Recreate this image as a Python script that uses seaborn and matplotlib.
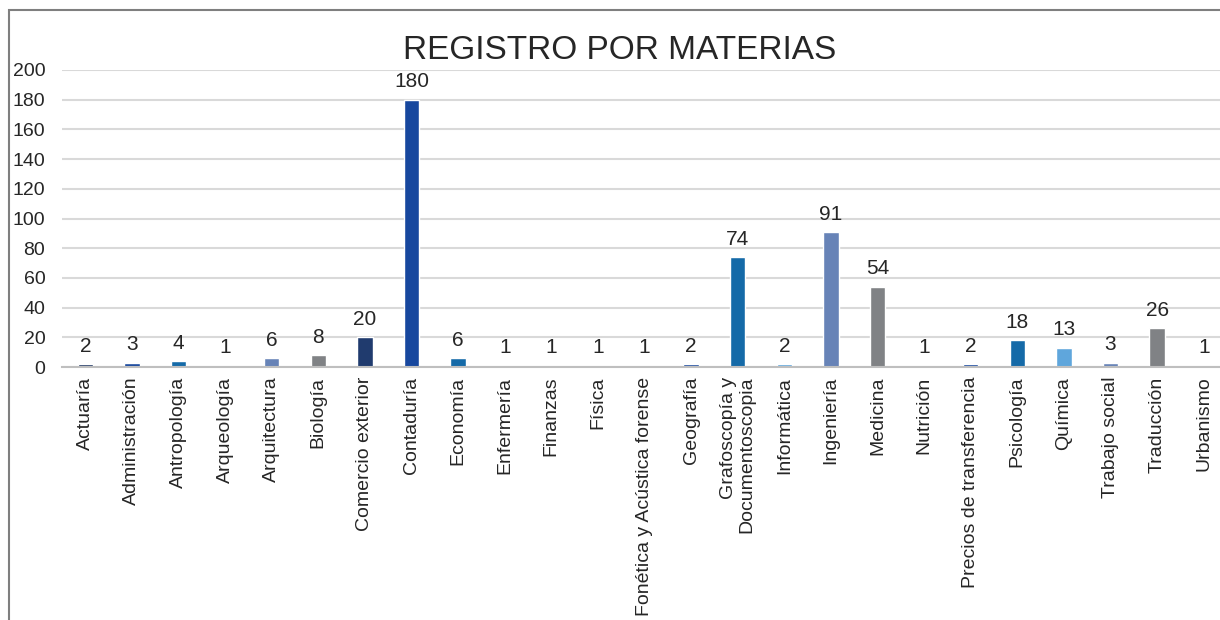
import matplotlib
matplotlib.use('Agg')
import matplotlib.pyplot as plt
from matplotlib.patches import Rectangle
import seaborn as sns
import pandas as pd

########### DATA ##################################
materias = ['Actuaría', 'Administración', 'Antropología', 'Arqueología', 'Arquitectura',
            'Biología', 'Comercio exterior', 'Contaduría', 'Economía', 'Enfermería',
            'Finanzas', 'Física', 'Fonética y Acústica forense', 'Geografía',
            'Grafoscopía y\nDocumentoscopia', 'Informática', 'Ingeniería', 'Medicina',
            'Nutrición', 'Precios de transferencia', 'Psicología', 'Química',
            'Trabajo social', 'Traducción', 'Urbanismo']
registros = [2, 3, 4, 1, 6, 8, 20, 180, 6, 1, 1, 1, 1, 2, 74, 2, 91, 54, 1, 2, 18, 13, 3, 26, 1]

colores = ['#203864', '#1b4a9e', '#156aa8', '#5fa6dc', '#6783b7', '#808285',
           '#203b6e', '#17479e', '#156aa8', '#a5a5a5', '#6b8ecc', '#8a8b8d',
           '#1f3a78', '#1b4a9e', '#156aa8', '#5fa6dc', '#6783b7', '#808285',
           '#203b6e', '#17479e', '#156aa8', '#5fa6dc', '#6783b7', '#808285',
           '#1f3a78']

df = pd.DataFrame({'materia': materias, 'registros': registros})

############### PLOTTING ##################
sns.set_style('white')
plt.rcParams['font.family'] = ['Liberation Sans', 'DejaVu Sans']

fig = plt.figure(figsize=(12.2, 6.2), dpi=100)
ax = fig.add_axes([62 / 1220, 253 / 620, 1165 / 1220, 297 / 620])

sns.barplot(data=df, x='materia', y='registros', hue='materia', palette=colores,
            legend=False, width=0.33, dodge=False, ax=ax, saturation=1)

for c in ax.containers:
    ax.bar_label(c, padding=6, fontsize=15, color='#262626')

ax.set_ylim(0, 200)
ax.set_yticks(range(0, 201, 20))
ax.set_xlim(-0.5, len(materias) - 0.5)
ax.yaxis.grid(True, color='#d9d9d9', linewidth=1.5)
ax.set_axisbelow(True)
for s in ['top', 'right', 'left']:
    ax.spines[s].set_visible(False)
ax.spines['bottom'].set_color('#bfbfbf')
ax.spines['bottom'].set_linewidth(1.5)
ax.set_xlabel('')
ax.set_ylabel('')
ax.tick_params(axis='y', length=0, pad=12, labelsize=14, labelcolor='#262626')
ax.tick_params(axis='x', length=0, pad=7, labelsize=14, labelcolor='#262626')
plt.setp(ax.get_xticklabels(), rotation=90, ha='center', va='top', multialignment='right',
         linespacing=1.1)

fig.text(0.508, 0.919, 'REGISTRO POR MATERIAS', ha='center', va='center',
         fontsize=24, color='#262626')

# marco del grafico (solo se ve arriba y a la izquierda)
fig.add_artist(Rectangle((9 / 1220, -0.5), 2, (610 / 620) + 0.5, transform=fig.transFigure,
                         fill=False, edgecolor='#7f7f7f', linewidth=1.5, clip_on=False))

plt.savefig('out.png', dpi=100)
